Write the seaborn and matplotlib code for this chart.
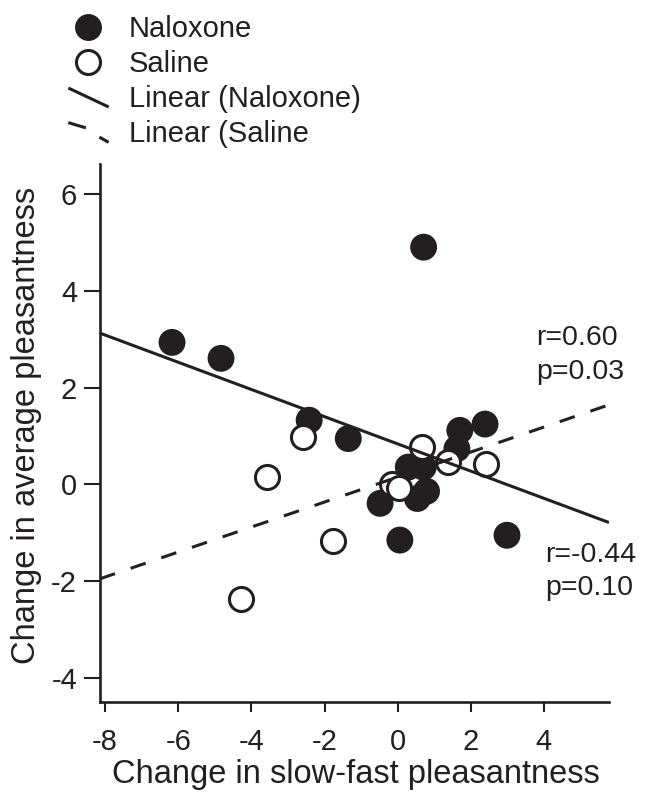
import numpy as np
import pandas as pd
import matplotlib
matplotlib.use("Agg")
import matplotlib.pyplot as plt
import seaborn as sns
from matplotlib.lines import Line2D
from matplotlib.path import Path

# ---------------- data ----------------
nal_x = [-6.17, -4.83, -2.42, -1.35, 0.71, -0.48, 0.06, 1.70, 2.39, 1.62,
         0.29, 0.70, 0.79, 0.54, 2.99]
nal_y = [2.94, 2.61, 1.33, 0.95, 4.91, -0.39, -1.15, 1.12, 1.25, 0.74,
         0.36, 0.36, -0.14, -0.29, -1.05]

sal_x = [-4.29, -3.58, -2.60, -1.76, -0.15, 0.05, 0.66, 1.38, 2.41]
sal_y = [-2.36, 0.16, 0.98, -1.17, 0.02, -0.08, 0.78, 0.47, 0.42]

# fitted lines (slope, intercept) as drawn in the figure
nal_fit = (-0.2815, 0.84)
sal_fit = (0.2586, 0.154)

labels = ["Naloxone", "Saline", "Linear (Naloxone)", "Linear (Saline"]
stats_sal = ["r=0.60", "p=0.03"]
stats_nal = ["r=-0.44", "p=0.10"]

x_ticks = [-8, -6, -4, -2, 0, 2, 4]
y_ticks = [-4, -2, 0, 2, 4, 6]
x_lim = (-8.14, 5.78)
y_lim = (-4.50, 6.63)

# ---------------- style ----------------
sns.set_theme(style="ticks")
plt.rcParams["font.family"] = ["Liberation Sans", "DejaVu Sans"]
BLACK = "#231f20"

fig = plt.figure(figsize=(6.56, 7.99), dpi=100)
ax = fig.add_axes([0.1524, 0.1214, 0.7760, 0.6733])

df_nal = pd.DataFrame({"x": nal_x, "y": nal_y})
df_sal = pd.DataFrame({"x": sal_x, "y": sal_y})

sns.scatterplot(data=df_nal, x="x", y="y", ax=ax, s=375, color=BLACK,
                edgecolor="none", linewidth=0, zorder=2, legend=False)
sns.scatterplot(data=df_sal, x="x", y="y", ax=ax, s=300, color="white",
                edgecolor=BLACK, linewidth=2.2, zorder=3, legend=False)

xs = np.array(x_lim)
ax.plot(xs, nal_fit[1] + nal_fit[0] * xs, color=BLACK, lw=2.2, zorder=4,
        solid_capstyle="butt")
ax.plot(xs, sal_fit[1] + sal_fit[0] * xs, color=BLACK, lw=2.2, zorder=4,
        linestyle=(0, (5.2, 5.4)), dash_capstyle="butt")

ax.set_xlim(*x_lim)
ax.set_ylim(*y_lim)
ax.set_xticks(x_ticks)
ax.set_yticks(y_ticks)
ax.set_xticklabels([str(t) for t in x_ticks])
ax.set_yticklabels([str(t) for t in y_ticks])

for s in ["top", "right"]:
    ax.spines[s].set_visible(False)
for s in ["left", "bottom"]:
    ax.spines[s].set_linewidth(1.9)
    ax.spines[s].set_color(BLACK)

ax.tick_params(axis="x", direction="out", length=7.5, width=1.5, pad=11,
               labelsize=21, colors=BLACK)
ax.tick_params(axis="y", direction="out", length=11.5, width=1.5, pad=5,
               labelsize=21, colors=BLACK)

ax.set_xlabel("Change in slow-fast pleasantness", fontsize=23.5, color=BLACK)
ax.set_ylabel("Change in average pleasantness", fontsize=23.5, color=BLACK)
ax.xaxis.set_label_coords(0.503, -0.106)
ax.yaxis.set_label_coords(-0.114, 0.515)

ax.text(3.80, 3.03, stats_sal[0], fontsize=20.5, color=BLACK, va="center", ha="left")
ax.text(3.80, 2.32, stats_sal[1], fontsize=20.5, color=BLACK, va="center", ha="left")
ax.text(4.03, -1.46, stats_nal[0], fontsize=20.5, color=BLACK, va="center", ha="left")
ax.text(4.03, -2.14, stats_nal[1], fontsize=20.5, color=BLACK, va="center", ha="left")

# ---------------- legend ----------------
solid_path = Path([(-1, 0.47), (1, -0.47)], [Path.MOVETO, Path.LINETO])
dash_path = Path([(-1, 0.49), (-0.13, 0.23), (0.54, -0.23), (1, -0.49)],
                 [Path.MOVETO, Path.LINETO, Path.MOVETO, Path.LINETO])
handles = [
    Line2D([], [], linestyle="none", marker="o", markersize=19.4,
           markerfacecolor=BLACK, markeredgewidth=0),
    Line2D([], [], linestyle="none", marker="o", markersize=17.3,
           markerfacecolor="white", markeredgecolor=BLACK, markeredgewidth=2.2),
    Line2D([], [], linestyle="none", marker=solid_path, markersize=29,
           markeredgewidth=2.2, markeredgecolor=BLACK, fillstyle="none"),
    Line2D([], [], linestyle="none", marker=dash_path, markersize=29,
           markeredgewidth=2.2, markeredgecolor=BLACK, fillstyle="none"),
]
fig.legend(handles, labels, loc="upper left", bbox_to_anchor=(0.103, 0.981),
           frameon=False, fontsize=21, handlelength=1.37, handletextpad=0.72,
           labelspacing=0.24, borderpad=0, borderaxespad=0, labelcolor=BLACK)

fig.savefig("out.png", dpi=100)
